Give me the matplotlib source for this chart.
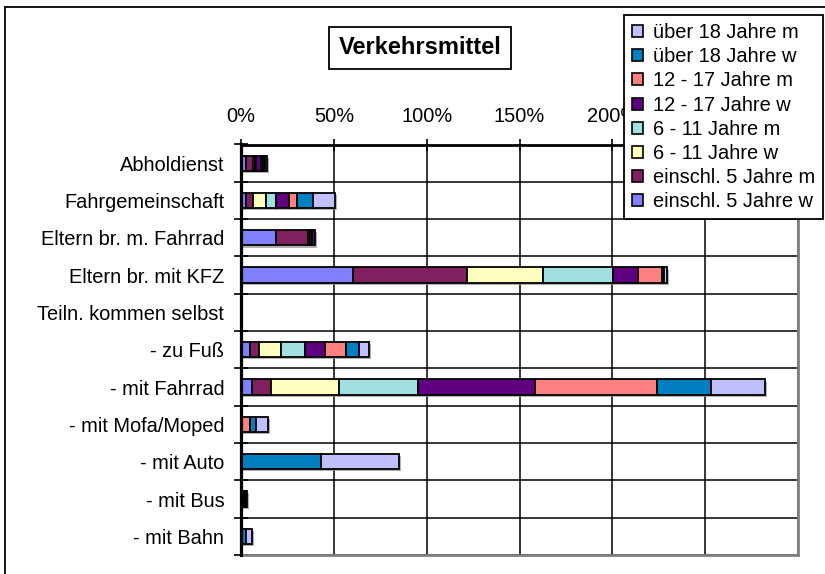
import numpy as np
import matplotlib
matplotlib.use("Agg")
import matplotlib.pyplot as plt
from matplotlib.patches import Patch, Rectangle
import matplotlib.patheffects as pe

plt.rcParams['font.family'] = ['Liberation Sans', 'DejaVu Sans']

# categories, top to bottom
categories = ["Abholdienst", "Fahrgemeinschaft", "Eltern br. m. Fahrrad",
              "Eltern br. mit KFZ", "Teiln. kommen selbst", "- zu Fuß",
              "- mit Fahrrad", "- mit Mofa/Moped", "- mit Auto", "- mit Bus",
              "- mit Bahn"]

# series values in percent, stacking order left->right
einschl5_w = [2.9, 2.5, 18.8, 60.4, 0, 5.1, 6.1, 0, 0, 0, 0]
einschl5_m = [3.8, 3.7, 17.1, 61.4, 0, 4.5, 9.8, 0, 0, 0, 0]
j6_11_w = [0.8, 7.5, 1.0, 41.0, 0, 11.9, 36.8, 0, 0, 0.5, 0]
j6_11_m = [0.8, 5.4, 1.5, 37.5, 0, 12.9, 42.9, 0, 0, 0.5, 0]
j12_17_w = [2.5, 6.8, 1.6, 13.3, 0, 11.0, 62.8, 0.8, 0, 0.6, 0]
j12_17_m = [0.8, 4.1, 0, 13.1, 0, 11.4, 65.8, 3.8, 0, 0.5, 0]
ueber18_w = [1.5, 8.6, 0, 1.2, 0, 7.0, 28.8, 3.3, 42.9, 0.6, 2.5]
ueber18_m = [0.8, 11.8, 0, 1.5, 0, 5.1, 29.0, 6.4, 42.2, 0.5, 3.3]

series = [einschl5_w, einschl5_m, j6_11_w, j6_11_m,
          j12_17_w, j12_17_m, ueber18_w, ueber18_m]
labels = ["einschl. 5 Jahre w", "einschl. 5 Jahre m", "6 - 11 Jahre w",
          "6 - 11 Jahre m", "12 - 17 Jahre w", "12 - 17 Jahre m",
          "über 18 Jahre w", "über 18 Jahre m"]
colors = ["#8080ff", "#802060", "#ffffc0", "#a0e0e0",
          "#600080", "#ff8080", "#0080c0", "#c0c0ff"]

# tick values; 250% and 300% sit under the legend in the original
xticks = [0, 50, 100, 150, 200, 250, 300]
xticklabels = ["0%", "50%", "100%", "150%", "200%", "", ""]

W, H = 825, 574
fig = plt.figure(figsize=(W/100, H/100), dpi=100)

# outer chart border (right/bottom run off the picture)
fig.patches.append(Rectangle((5.3/W, -0.1), 1.2, 1 - 7.3/H + 0.1,
                             transform=fig.transFigure, fill=False,
                             ec='black', lw=1.3))

x0, x1, y0, y1 = 241, 798, 144.5, 555
ax = fig.add_axes([x0/W, 1 - y1/H, (x1-x0)/W, (y1-y0)/H])

y = np.arange(len(categories))
cum = np.zeros(len(categories))
shadow = [pe.SimplePatchShadow(offset=(1.5, -1.5), shadow_rgbFace='#909090', alpha=0.7), pe.Normal()]
for vals, c in zip(series, colors):
    v = np.array(vals, dtype=float)
    bars = ax.barh(y, v, left=cum, height=0.41, color=c, edgecolor='black',
                   linewidth=1.3, zorder=3)
    for b in bars:
        if b.get_width() > 0:
            b.set_path_effects(shadow)
        else:
            b.set_visible(False)
    cum += v

ax.set_xlim(0, 300)
ax.set_ylim(len(categories) - 0.5, -0.5)

ax.xaxis.tick_top()
ax.set_xticks(xticks)
ax.set_xticklabels(xticklabels)
ax.tick_params(axis='x', direction='inout', length=9, width=1.2, pad=9,
               labelsize=14.4, colors='black')

ax.set_yticks(y)
ax.set_yticklabels(categories)
ax.set_yticks(np.arange(-0.5, len(categories)), minor=True)
ax.tick_params(axis='y', which='major', length=0, pad=12, labelsize=14.4)
ax.tick_params(axis='y', which='minor', direction='inout', length=10, width=1.2)

ax.grid(axis='x', which='major', color='black', lw=1.1, zorder=1)
ax.grid(axis='y', which='minor', color='black', lw=1.1, zorder=1)
ax.set_axisbelow(True)

ax.spines['top'].set_linewidth(2)
ax.spines['left'].set_linewidth(2.3)
ax.spines['top'].set_zorder(4)
ax.spines['left'].set_zorder(4)
for s in ['right', 'bottom']:
    ax.spines[s].set_color('#808080')
    ax.spines[s].set_linewidth(2)

# title in a box
fig.text(420/W, 1 - 48/H, "Verkehrsmittel", ha='center', va='center',
         fontsize=17, fontweight='bold',
         bbox=dict(boxstyle='square,pad=0.4', fc='white', ec='black', lw=1.3))

# legend, reversed order
handles = [Patch(facecolor=c, edgecolor='black', lw=1.2) for c in colors][::-1]
leg = fig.legend(handles, labels[::-1], loc='upper right',
                 bbox_to_anchor=(823/W, 1 - 15/H), fontsize=14.4,
                 frameon=True, fancybox=False, framealpha=1,
                 edgecolor='black', borderaxespad=0, borderpad=0.4,
                 handlelength=0.55, handleheight=0.55, handletextpad=0.5,
                 labelspacing=0.26)
leg.get_frame().set_linewidth(1.3)

fig.savefig("out.png", dpi=100)
